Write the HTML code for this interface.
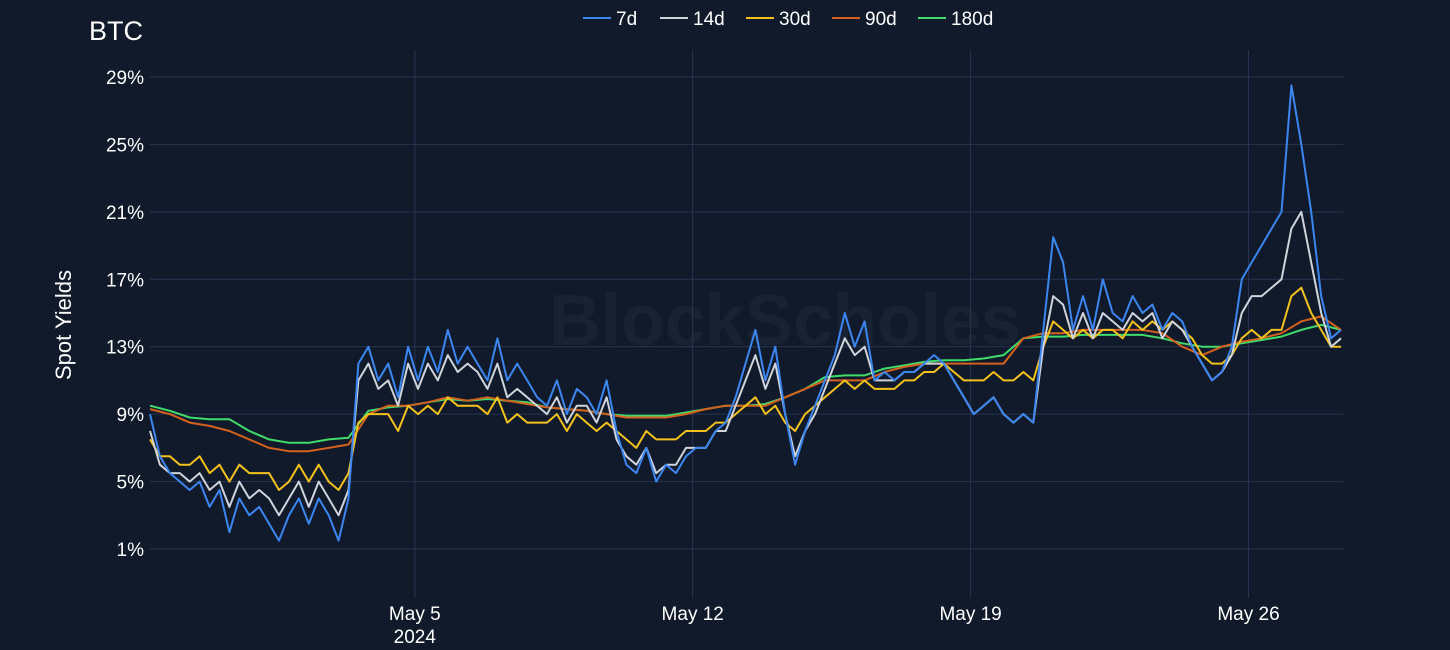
<!DOCTYPE html>
<html><head><meta charset="utf-8"><style>
html,body{margin:0;padding:0;background:#111a2b;}
svg{display:block;font-family:"Liberation Sans",sans-serif;}
</style></head><body>
<svg id="chart" width="1450" height="650" xmlns="http://www.w3.org/2000/svg">
<rect width="1450" height="650" fill="#111a2b"/>
<text x="785" y="345" font-size="72" font-weight="bold" fill="#ffffff" fill-opacity="0.035" text-anchor="middle">BlockScholes</text>
<text x="89" y="40" font-size="27" fill="#ffffff">BTC</text>
<text transform="translate(71,325) rotate(-90)" font-size="22" fill="#ffffff" text-anchor="middle">Spot Yields</text>
<g id="grid"></g><g id="series"></g><g id="legend"></g>
</svg>
<script>
const yTicks=[1,5,9,13,17,21,25,29];
const xTickDays=[6.67,13.67,20.67,27.67];
const xTickLabels=["May 5","May 12","May 19","May 26"];
const names=["7d","14d","30d","90d","180d"];
const colors=["#3b86f0","#cfd3db","#f3c11b","#d4621e","#3fdc6c"];
const s7=[9,6.5,5.5,5,4.5,5,3.5,4.5,2,4,3,3.5,2.5,1.5,3,4,2.5,4,3,1.5,4,12,13,11,12,10,13,11,13,11.5,14,12,13,12,11,13.5,11,12,11,10,9.5,11,9,10.5,10,9,11,8,6,5.5,7,5,6,5.5,6.5,7,7,8,8.5,10,12,14,11,13,9,6,8,9.5,11,12.5,15,13,14.5,11,11.5,11,11.5,11.5,12,12.5,12,11,10,9,9.5,10,9,8.5,9,8.5,14,19.5,18,14,16,14,17,15,14.5,16,15,15.5,14,15,14.5,13,12,11,11.5,13,17,18,19,20,21,28.5,25,21,16,13.5,14];
const s14=[8,6,5.5,5.5,5,5.5,4.5,5,3.5,5,4,4.5,4,3,4,5,3.5,5,4,3,4.5,11,12,10.5,11,9.5,12,10.5,12,11,12.5,11.5,12,11.5,10.5,12,10,10.5,10,9.5,9,10,8.5,9.5,9.5,8.5,10,7.5,6.5,6,7,5.5,6,6,7,7,7,8,8,9.5,11,12.5,10.5,12,9,6.5,8,9,10.5,12,13.5,12.5,13,11,11,11,11.5,11.5,12,12,12,11,10,9,9.5,10,9,8.5,9,8.5,13,16,15.5,13.5,15,13.5,15,14.5,14,15,14.5,15,13.5,14.5,14,13,12,11,11.5,12.5,15,16,16,16.5,17,20,21,18,15,13,13.5];
const s30=[7.5,6.5,6.5,6,6,6.5,5.5,6,5,6,5.5,5.5,5.5,4.5,5,6,5,6,5,4.5,5.5,8.5,9,9,9,8,9.5,9,9.5,9,10,9.5,9.5,9.5,9,10,8.5,9,8.5,8.5,8.5,9,8,9,8.5,8,8.5,8,7.5,7,8,7.5,7.5,7.5,8,8,8,8.5,8.5,9,9.5,10,9,9.5,8.5,8,9,9.5,10,10.5,11,10.5,11,10.5,10.5,10.5,11,11,11.5,11.5,12,11.5,11,11,11,11.5,11,11,11.5,11,13,14.5,14,13.5,14,13.5,14,14,13.5,14.5,14,14.5,14,14.5,14,13.5,12.5,12,12,12.5,13.5,14,13.5,14,14,16,16.5,15,14,13,13];
const s90=[9.3,9,8.5,8.3,8,7.5,7,6.8,6.8,7,7.2,9,9.5,9.5,9.7,10,9.8,10,9.8,9.6,9.4,9.3,9.2,9,8.8,8.8,8.8,9,9.3,9.5,9.5,9.5,10,10.5,11,11,11,11.5,11.8,12,12,12,12,12,13.5,13.8,13.8,14,14,14,14,13.8,13,12.5,13,13.3,13.5,13.8,14.5,14.8,14];
const s180=[9.5,9.2,8.8,8.7,8.7,8,7.5,7.3,7.3,7.5,7.6,9.2,9.4,9.5,9.7,9.9,9.8,9.9,9.8,9.7,9.4,9.3,9.2,9,8.9,8.9,8.9,9.1,9.3,9.5,9.5,9.6,10,10.5,11.2,11.3,11.3,11.7,11.9,12.1,12.2,12.2,12.3,12.5,13.5,13.6,13.6,13.7,13.7,13.7,13.7,13.5,13.2,13,13,13.2,13.4,13.6,14,14.3,14];
const steps=[0.25,0.25,0.25,0.5,0.5];
const allSeries=[s7,s14,s30,s90,s180];
const X0=150,X1=1343,D0=0,D1=30.05;
const xs=d=>X0+(d-D0)/(D1-D0)*(X1-X0);
const ys=v=>549-(v-1)/28*472;
const NS="http://www.w3.org/2000/svg";
function mk(t,a,p){const e=document.createElementNS(NS,t);for(const k in a)e.setAttribute(k,a[k]);p.appendChild(e);return e;}
const grid=document.getElementById('grid');
yTicks.forEach(v=>{
 const l=mk('line',{x1:X0,x2:X1,y1:ys(v),y2:ys(v),stroke:'#263452','stroke-width':1},grid);
 
 
 const t=mk('text',{x:144,y:ys(v)+7,'font-size':19,fill:'#ffffff','text-anchor':'end'},grid);
 t.textContent=v+'%';
 
 
});
xTickDays.forEach((d,i)=>{
 const l=mk('line',{x1:xs(d),x2:xs(d),y1:50,y2:598,stroke:'#263452','stroke-width':1},grid);
 
 
 const t=mk('text',{x:xs(d),y:620,'font-size':19,fill:'#ffffff','text-anchor':'middle'},grid);
 t.textContent=xTickLabels[i];
 
 
});
const yr=mk('text',{x:xs(xTickDays[0]),y:643,'font-size':19,fill:'#ffffff','text-anchor':'middle'},grid);
yr.textContent='2024';


const sg=document.getElementById('series');
for(let k=allSeries.length-1;k>=0;k--){
 const d=allSeries[k].map((v,i)=>(i?'L':'M')+xs(i*steps[k]).toFixed(1)+','+ys(v).toFixed(1)).join('');
 const p=mk('path',{d:d,fill:'none',stroke:colors[k],'stroke-width':2,'stroke-linejoin':'round'},sg);
 
 
}
const lg=document.getElementById('legend');
const lx=[583,660,746,832,918];
names.forEach((n,i)=>{
 const g=mk('g',{},lg);
 
 
 mk('line',{x1:lx[i],x2:lx[i]+28,y1:18,y2:18,stroke:colors[i],'stroke-width':2},g);
 const t=mk('text',{x:lx[i]+33,y:25,'font-size':19,fill:'#ffffff'},g);
 t.textContent=n;
});
</script>
</body></html>
